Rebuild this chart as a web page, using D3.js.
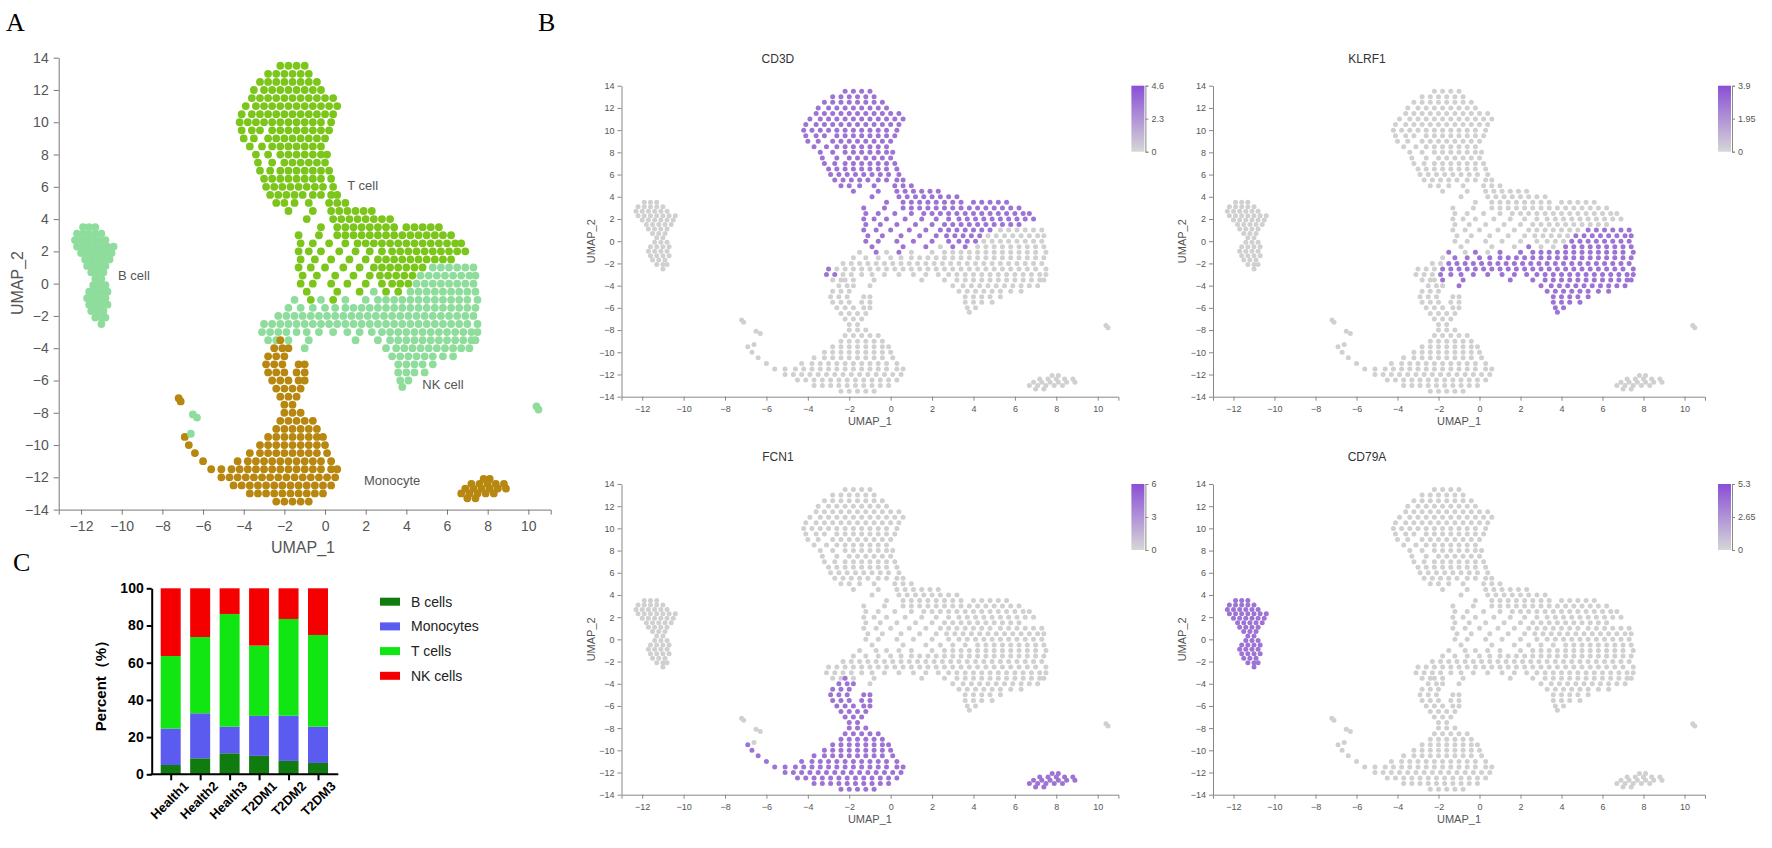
<!DOCTYPE html>
<html>
<head>
<meta charset="utf-8">
<script src="https://cdn.jsdelivr.net/npm/d3@7"></script>
<style>
  body { margin: 0; background: #fff; }
  text { font-family: "Liberation Sans", Arial, sans-serif; }
</style>
</head>
<body>
<svg id="fig" width="1772" height="848"></svg>
<script>
const tCellRows = [
  [13.5, [-2.2, -1.8, -1.4, -1.0]],
  [13.0, [-2.8, -2.4, -2.0, -1.6, -1.2, -0.8]],
  [12.5, [-3.2, -2.8, -2.4, -2.0, -1.6, -1.2, -0.8, -0.4]],
  [12.0, [-3.5, -3.0, -2.6, -2.2, -1.8, -1.4, -1.0, -0.6, -0.2]],
  [11.5, [-3.6, -3.2, -2.8, -2.4, -2.0, -1.6, -1.2, -0.8, -0.4, 0.0, 0.4]],
  [11.0, [-3.9, -3.4, -3.0, -2.6, -2.2, -1.8, -1.4, -1.0, -0.6, -0.2, 0.2, 0.6]],
  [10.5, [-4.1, -3.6, -3.2, -2.8, -2.4, -2.0, -1.6, -1.2, -0.8, -0.4, 0.0, 0.4]],
  [10.0, [-4.2, -3.8, -3.4, -3.0, -2.6, -2.2, -1.8, -1.4, -1.0, -0.6, -0.2, 0.3]],
  [9.5, [-4.1, -3.6, -3.2, -2.6, -2.2, -1.8, -1.4, -1.0, -0.6, -0.2, 0.2]],
  [9.0, [-4.0, -3.5, -2.8, -2.4, -2.0, -1.6, -1.2, -0.8, -0.4, 0.0]],
  [8.5, [-3.7, -3.1, -2.6, -2.2, -1.8, -1.4, -1.0, -0.6, -0.2]],
  [8.0, [-3.4, -2.8, -2.2, -1.8, -1.4, -1.0, -0.6, -0.2, 0.1]],
  [7.5, [-3.3, -2.6, -2.0, -1.6, -1.2, -0.8, -0.4, 0.0]],
  [7.0, [-3.2, -2.7, -2.2, -1.8, -1.4, -1.0, -0.6, -0.2, 0.2]],
  [6.5, [-3.0, -2.6, -2.2, -1.8, -1.4, -1.0, -0.6, -0.2, 0.3]],
  [6.0, [-2.9, -2.5, -2.1, -1.7, -1.3, -0.9, -0.5, -0.1, 0.4]],
  [5.5, [-2.7, -2.3, -1.9, -1.5, -1.1, -0.6, -0.2, 0.3, 0.6]],
  [5.0, [-2.4, -2.0, -1.5, -0.8, 0.2, 0.6, 1.0]],
  [4.5, [-1.8, -0.6, 0.3, 0.7, 1.1, 1.5, 1.9, 2.3]],
  [4.0, [-0.9, 0.4, 0.8, 1.2, 1.6, 2.0, 2.4, 2.8, 3.2]],
  [3.5, [-0.2, 0.6, 1.0, 1.4, 1.8, 2.2, 2.6, 3.0, 3.4, 4.0, 4.4, 4.8, 5.2, 5.6]],
  [3.0, [-1.3, -0.3, 0.6, 1.0, 1.4, 1.8, 2.2, 2.6, 3.0, 3.4, 3.8, 4.2, 4.6, 5.0, 5.4, 5.8, 6.2]],
  [2.5, [-1.2, -0.6, 0.2, 1.0, 1.6, 2.0, 2.4, 2.8, 3.2, 3.6, 4.0, 4.4, 4.8, 5.2, 5.6, 6.0, 6.4, 6.7]],
  [2.0, [-1.3, -0.8, -0.2, 0.7, 1.5, 2.2, 2.8, 3.3, 3.7, 4.1, 4.5, 4.9, 5.3, 5.7, 6.1, 6.5, 6.9]],
  [1.5, [-1.2, -0.5, 0.3, 1.2, 2.0, 2.6, 3.0, 3.4, 3.8, 4.2, 4.6, 5.0, 5.4, 5.8, 6.2]],
  [1.0, [-1.3, -0.7, 0.0, 0.9, 1.7, 2.4, 2.8, 3.2, 3.6, 4.0, 4.4, 4.8]],
  [0.5, [-1.1, -0.4, 0.5, 1.4, 2.2, 2.7, 3.1, 3.5, 3.9, 4.3]],
  [0.0, [-1.2, -0.6, 0.3, 1.1, 2.0, 2.8, 3.3, 3.7, 4.1]],
  [-0.5, [-0.9, 0.6, 1.7, 3.0, 3.6]],
  [-1.0, [-0.7, 0.4]]
];

const nkCellRows = [
  [1.0, [5.3, 5.7, 6.1, 6.5, 6.9, 7.3]],
  [0.5, [4.7, 5.1, 5.5, 5.9, 6.3, 6.7, 7.1, 7.4]],
  [0.0, [4.5, 4.9, 5.3, 5.7, 6.1, 6.5, 6.9, 7.3]],
  [-0.5, [2.4, 4.2, 4.6, 5.0, 5.4, 5.8, 6.2, 6.6, 7.0, 7.4]],
  [-1.0, [-1.5, -0.2, 1.0, 2.0, 2.6, 3.0, 3.4, 3.8, 4.2, 4.6, 5.0, 5.4, 5.8, 6.2, 6.6, 7.0, 7.5]],
  [-1.5, [-1.2, -0.6, 0.0, 0.5, 1.0, 1.4, 1.8, 2.2, 2.6, 3.0, 3.4, 3.8, 4.2, 4.6, 5.0, 5.4, 5.8, 6.2, 6.6, 7.0, 7.4]],
  [-2.0, [-1.5, -1.1, -0.7, -0.3, 0.1, 0.5, 0.9, 1.3, 1.7, 2.1, 2.5, 2.9, 3.3, 3.7, 4.1, 4.5, 4.9, 5.3, 5.7, 6.1, 6.5, 6.9, 7.3]],
  [-2.5, [-1.8, -1.4, -1.0, -0.6, -0.2, 0.2, 0.6, 1.0, 1.4, 1.8, 2.2, 2.6, 3.0, 3.4, 3.8, 4.2, 4.6, 5.0, 5.4, 5.8, 6.2, 6.6, 7.0, 7.5]],
  [-3.0, [-1.9, -1.4, -0.9, -0.3, 0.4, 1.1, 1.7, 2.3, 2.8, 3.2, 3.6, 4.0, 4.4, 4.8, 5.2, 5.6, 6.0, 6.4, 6.8, 7.2, 7.5]],
  [-3.5, [-1.8, -0.8, 1.5, 2.6, 3.2, 3.6, 4.0, 4.4, 4.8, 5.2, 5.6, 6.0, 6.4, 6.8, 7.2, 7.4]],
  [-4.0, [-1.0, 3.0, 3.5, 3.9, 4.3, 4.7, 5.1, 5.5, 5.9, 6.3, 6.7, 7.1]],
  [-4.5, [3.3, 3.7, 4.1, 4.5, 4.9, 5.3, 5.8, 6.3]],
  [-5.0, [3.6, 4.0, 4.4, 4.8, 5.3]],
  [-5.5, [3.6, 4.0, 4.4, 4.9]],
  [-6.0, [3.7, 4.1]],
  [-6.4, [3.8]]
];

// left tip of the NK arm (grey for KLRF1)
const nkTipRows = [
  [-1.5, [-1.8]],
  [-2.0, [-2.3, -1.9]],
  [-2.5, [-2.6, -2.2]],
  [-3.0, [-2.3]],
  [-3.5, [-2.8, -2.4]]
];
// very end of the arm (CD3D+)
const nkEndRows = [
  [-2.5, [-3.0]],
  [-3.0, [-3.1, -2.7]]
];

const bCellRows = [
  [3.5, [-11.9, -11.6, -11.3]],
  [3.1, [-12.2, -11.9, -11.6, -11.3, -11.0]],
  [2.7, [-12.3, -12.0, -11.7, -11.4, -11.1, -10.8]],
  [2.3, [-12.2, -11.9, -11.6, -11.3, -11.0, -10.7, -10.4]],
  [1.9, [-12.0, -11.7, -11.4, -11.1, -10.8, -10.5]],
  [1.5, [-11.8, -11.5, -11.2, -10.9, -10.6]],
  [1.1, [-11.7, -11.4, -11.1, -10.8]],
  [0.7, [-11.5, -11.2, -10.9]],
  [0.3, [-11.3, -11.0]],
  [-0.1, [-11.4, -11.1, -10.8]],
  [-0.5, [-11.6, -11.3, -11.0, -10.7]],
  [-0.9, [-11.7, -11.4, -11.1, -10.8]],
  [-1.3, [-11.6, -11.3, -11.0, -10.7]],
  [-1.7, [-11.5, -11.2, -10.9]],
  [-2.1, [-11.3, -11.0, -10.8]],
  [-2.5, [-11.0]]
];

const monoRows = [
  [-3.5, [-2.2]],
  [-4.0, [-2.5, -2.1, -1.8]],
  [-4.5, [-2.8, -2.4, -2.0]],
  [-5.0, [-2.9, -2.5, -2.1, -1.3, -1.0]],
  [-5.5, [-2.8, -2.4, -2.0, -1.4, -1.0]],
  [-6.0, [-2.6, -2.2, -1.8, -1.3, -1.0]],
  [-6.5, [-2.4, -2.0, -1.6, -1.2]],
  [-7.0, [-2.2, -1.8, -1.4]],
  [-7.5, [-2.0, -1.6]],
  [-8.0, [-2.0, -1.6, -1.2]],
  [-8.5, [-2.2, -1.8, -1.4, -1.0, -0.6]],
  [-9.0, [-2.4, -2.0, -1.6, -1.2, -0.8, -0.4]],
  [-9.5, [-6.9, -2.8, -2.4, -2.0, -1.6, -1.2, -0.8, -0.4, -0.1]],
  [-10.0, [-6.7, -3.2, -2.8, -2.4, -2.0, -1.6, -1.2, -0.8, -0.4, 0.0]],
  [-10.5, [-6.4, -3.7, -3.2, -2.8, -2.4, -2.0, -1.6, -1.2, -0.8, -0.4, 0.1]],
  [-11.0, [-6.0, -4.3, -3.8, -3.4, -3.0, -2.6, -2.2, -1.8, -1.4, -1.0, -0.6, -0.2, 0.3]],
  [-11.5, [-5.6, -5.1, -4.6, -4.2, -3.8, -3.4, -3.0, -2.6, -2.2, -1.8, -1.4, -1.0, -0.6, -0.2, 0.3, 0.6]],
  [-12.0, [-5.1, -4.7, -4.3, -3.9, -3.5, -3.1, -2.7, -2.3, -1.9, -1.5, -1.1, -0.7, -0.3, 0.1, 0.5]],
  [-12.5, [-4.5, -4.1, -3.7, -3.3, -2.9, -2.5, -2.1, -1.7, -1.3, -0.9, -0.5, -0.1, 0.3]],
  [-13.0, [-3.7, -3.3, -2.9, -2.5, -2.1, -1.7, -1.3, -0.9, -0.5, -0.1]],
  [-13.5, [-2.4, -2.0, -1.6, -1.2, -0.8]]
];

const monoSmallRows = [
  [-12.1, [7.8, 8.1]],
  [-12.4, [7.2, 7.6, 8.0, 8.4, 8.8]],
  [-12.7, [6.9, 7.3, 7.7, 8.1, 8.5, 8.9]],
  [-13.0, [6.7, 7.1, 7.5, 7.9, 8.3]],
  [-13.3, [7.0, 7.4]]
];

const monoIsleRows = [
  [-7.1, [-7.2]],
  [-7.3, [-7.1]]
];

const strayRows = [
  [-7.6, [10.4]],
  [-7.8, [10.5]],
  [-8.1, [-6.5]],
  [-8.3, [-6.3]],
  [-9.3, [-6.6]]
];

// cluster labels in panel A: [text, UMAP_1, UMAP_2]
const clusterLabels = [
  ["T cell", 1.85, 5.8],
  ["B cell", -9.4, 0.2],
  ["NK cell", 5.8, -6.5],
  ["Monocyte", 3.3, -12.5]
];

// ---- feature plots (panel B) ----
const genes = ["CD3D", "KLRF1", "FCN1", "CD79A"];
const geneMax = [4.6, 3.9, 6, 5.3];
const geneClusters = [["T", "NKend"], ["NK"], ["Mono"], ["B"]];

// ---- panel C stacked bars (percent) ----
const samples = ["Health1", "Health2", "Health3", "T2DM1", "T2DM2", "T2DM3"];
const cellTypes = ["B cells", "Monocytes", "T cells", "NK cells"];
const bPct    = [5.0, 8.6, 11.3, 9.9, 7.2, 6.1];
const monoPct = [19.6, 24.2, 14.3, 21.5, 24.3, 19.5];
const tPct    = [39.0, 41.0, 60.6, 37.8, 52.0, 49.3];
const nkPct   = [36.4, 26.2, 13.8, 30.8, 16.5, 25.1];
const pctTicks = [0, 20, 40, 60, 80, 100];
const umapXTicks = [-12, -10, -8, -6, -4, -2, 0, 2, 4, 6, 8, 10];
const umapYTicks = [-14, -12, -10, -8, -6, -4, -2, 0, 2, 4, 6, 8, 10, 12, 14];

const svg = d3.select("#fig");

function toPoints(rows, key) {
  return rows.flatMap(([y, xs]) => xs.map(x => ({x: x, y: y, key: key})));
}

const clusters = [
  {key: "T",  rows: tCellRows,     color: "#7cc61c"},
  {key: "NK", rows: nkCellRows,    color: "#8fdd9c"},
  {key: "NKtip", rows: nkTipRows,  color: "#8fdd9c"},
  {key: "NKend", rows: nkEndRows,  color: "#8fdd9c"},
  {key: "B",  rows: bCellRows,     color: "#8fdd9c"},
  {key: "Mono", rows: monoRows,    color: "#b7870f"},
  {key: "Mono", rows: monoSmallRows, color: "#b7870f"},
  {key: "Isle", rows: monoIsleRows, color: "#b7870f"},
  {key: "Stray", rows: strayRows,  color: "#8fdd9c"}
];
const allPoints = clusters.flatMap(c => toPoints(c.rows, c.key).map(p => ({...p, color: c.color})));

function styleAxis(g, fontSize, color) {
  g.selectAll("path, line").attr("stroke", color);
  g.selectAll("text").attr("fill", "#555").style("font-size", fontSize + "px");
}

function panelLetter(txt, x, y) {
  svg.append("text").attr("x", x).attr("y", y).text(txt)
    .style("font-family", "'Liberation Serif', 'Times New Roman', serif")
    .style("font-size", "26px").attr("fill", "#000");
}

// ================= Panel A =================
panelLetter("A", 6, 31);
const xA = d3.scaleLinear().domain([-13.1, 11.1]).range([58.7, 550.7]);
const yA = d3.scaleLinear().domain([-14, 14]).range([509.6, 57.7]);
const gA = svg.append("g");

gA.append("g").attr("transform", `translate(0,${yA(-14)})`)
  .call(d3.axisBottom(xA).tickValues(umapXTicks).tickSize(5).tickPadding(6))
  .call(g => styleAxis(g, 14, "#777"));
gA.append("g").attr("transform", `translate(${xA(-13.1)},0)`)
  .call(d3.axisLeft(yA).tickValues(umapYTicks).tickSize(5).tickSizeOuter(0).tickPadding(5))
  .call(g => styleAxis(g, 14, "#777"));

gA.append("g").selectAll("circle").data(allPoints).enter().append("circle")
  .attr("cx", d => xA(d.x)).attr("cy", d => yA(d.y)).attr("r", 3.9)
  .attr("fill", d => d.color);

gA.selectAll(".clab").data(clusterLabels).enter().append("text")
  .attr("x", d => xA(d[1])).attr("y", d => yA(d[2]))
  .attr("text-anchor", "middle").attr("fill", "#555").style("font-size", "13px")
  .text(d => d[0]);

gA.append("text").attr("x", 303).attr("y", 553).attr("text-anchor", "middle")
  .attr("fill", "#555").style("font-size", "16px").text("UMAP_1");
gA.append("text").attr("transform", "translate(23,283) rotate(-90)").attr("text-anchor", "middle")
  .attr("fill", "#555").style("font-size", "16px").text("UMAP_2");

// ================= Panel B =================
panelLetter("B", 538, 31);
const featLayout = [
  {x0: 621.5, x1: 1118.4, y0: 396.7, y1: 85.7},
  {x0: 1213, x1: 1705, y0: 396.7, y1: 85.7},
  {x0: 621.5, x1: 1118.4, y0: 794.7, y1: 484},
  {x0: 1213, x1: 1705, y0: 794.7, y1: 484}
];
const defs = svg.append("defs");
const grad = defs.append("linearGradient").attr("id", "cbar")
  .attr("x1", 0).attr("y1", 1).attr("x2", 0).attr("y2", 0);
grad.append("stop").attr("offset", "0%").attr("stop-color", "#d6d6d6");
grad.append("stop").attr("offset", "100%").attr("stop-color", "#8a4fd6");

genes.forEach((gene, i) => {
  const L = featLayout[i];
  const x = d3.scaleLinear().domain([-13, 11]).range([L.x0, L.x1]);
  const y = d3.scaleLinear().domain([-14, 14]).range([L.y0, L.y1]);
  const g = svg.append("g");
  const on = d => geneClusters[i].includes(d.key);

  g.append("g").attr("transform", `translate(0,${L.y0})`)
    .call(d3.axisBottom(x).tickValues(umapXTicks).tickSize(4).tickPadding(5))
    .call(a => styleAxis(a, 9, "#888"));
  g.append("g").attr("transform", `translate(${L.x0},0)`)
    .call(d3.axisLeft(y).tickValues(umapYTicks).tickSize(4).tickSizeOuter(0).tickPadding(3))
    .call(a => styleAxis(a, 9, "#888"));

  const pts = allPoints.slice().sort((a, b) => on(a) - on(b));
  g.append("g").selectAll("circle").data(pts).enter().append("circle")
    .attr("cx", d => x(d.x)).attr("cy", d => y(d.y)).attr("r", 2.5)
    .attr("fill", d => on(d) ? "#9d74d4" : "#d0d0d0");

  g.append("text").attr("x", (L.x0 + L.x1) / 2 - 92).attr("y", L.y1 - 23)
    .attr("text-anchor", "middle").attr("fill", "#333").style("font-size", "12px").text(gene);
  g.append("text").attr("x", (L.x0 + L.x1) / 2).attr("y", L.y0 + 28)
    .attr("text-anchor", "middle").attr("fill", "#555").style("font-size", "11px").text("UMAP_1");
  g.append("text").attr("transform", `translate(${L.x0 - 27},${(L.y0 + L.y1) / 2}) rotate(-90)`)
    .attr("text-anchor", "middle").attr("fill", "#555").style("font-size", "11px").text("UMAP_2");

  // colour bar
  const cx = L.x1 + 13;
  const cy = d3.scaleLinear().domain([0, geneMax[i]]).range([L.y1 + 66, L.y1]);
  g.append("rect").attr("x", cx).attr("y", L.y1).attr("width", 13).attr("height", 66)
    .attr("fill", "url(#cbar)");
  g.append("g").attr("transform", `translate(${cx + 14},0)`)
    .call(d3.axisRight(cy).tickValues([0, geneMax[i] / 2, geneMax[i]]).tickSize(3).tickPadding(3)
      .tickFormat(d => +d.toFixed(2)))
    .call(a => styleAxis(a, 9, "#888"));
});

// ================= Panel C =================
panelLetter("C", 13, 571);
const xC = d3.scalePoint().domain(samples).range([170.7, 318]);
const yC = d3.scaleLinear().domain([0, 100]).range([774.3, 588.3]);
const typeColors = ["#107c10", "#5b5bf0", "#12e612", "#f50000"];
const stackRows = samples.map((s, i) => ({
  sample: s, "B cells": bPct[i], "Monocytes": monoPct[i], "T cells": tPct[i], "NK cells": nkPct[i]
}));
const series = d3.stack().keys(cellTypes)(stackRows);
const gC = svg.append("g");

series.forEach((ser, k) => {
  gC.append("g").selectAll("rect").data(ser).enter().append("rect")
    .attr("x", d => xC(d.data.sample) - 10).attr("width", 20)
    .attr("y", d => yC(Math.min(d[1], 100))).attr("height", d => yC(d[0]) - yC(Math.min(d[1], 100)))
    .attr("fill", typeColors[k]);
});

gC.append("g").attr("transform", "translate(151.7,0)")
  .call(d3.axisLeft(yC).tickValues(pctTicks).tickSize(5).tickSizeOuter(0).tickPadding(3))
  .call(g => {
    g.selectAll("path, line").attr("stroke", "#000").attr("stroke-width", 2);
    g.selectAll("text").attr("fill", "#000").style("font-size", "14px").style("font-weight", "bold");
  });
gC.append("g").attr("transform", `translate(0,${yC(0)})`)
  .call(d3.axisBottom(xC).tickSize(6).tickSizeOuter(0).tickPadding(4))
  .call(g => {
    g.select(".domain").attr("d", "M150.7,0H338.3");
    g.selectAll("path, line").attr("stroke", "#000").attr("stroke-width", 2);
    g.selectAll("text").attr("fill", "#000").style("font-size", "13px").style("font-weight", "bold")
      .attr("text-anchor", "end").attr("dx", "0.3em").attr("dy", "0.9em")
      .attr("transform", "rotate(-45)");
  });
gC.append("text").attr("transform", "translate(106,682) rotate(-90)").attr("text-anchor", "middle")
  .style("font-size", "15px").style("font-weight", "bold").attr("fill", "#000").text("Percent（%）");

const legC = gC.append("g");
cellTypes.forEach((t, k) => {
  const ly = 601.7 + k * 24.7;
  legC.append("rect").attr("x", 380).attr("y", ly - 4).attr("width", 20).attr("height", 8)
    .attr("fill", typeColors[k]);
  legC.append("text").attr("x", 411).attr("y", ly + 5).attr("fill", "#222")
    .style("font-size", "14px").text(t);
});
</script>
</body>
</html>
